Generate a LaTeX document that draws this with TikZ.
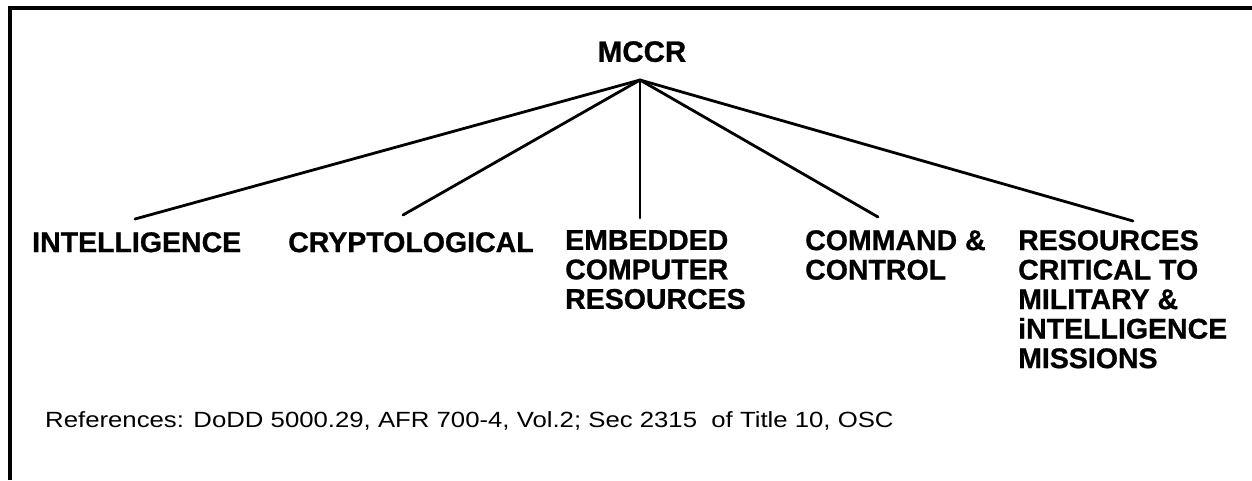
\documentclass[tikz,border=0pt]{standalone}
\usepackage{fontspec}
\setmainfont[BoldFeatures={FakeBold=0.8}]{Liberation Sans}
\newfontfamily\widefont[FakeStretch=1.17]{Liberation Sans}
\begin{document}
\begin{tikzpicture}[x=1pt,y=-1pt,
  lbl/.style={font=\bfseries\fontsize{28.5}{29.5}\selectfont, inner sep=0pt, anchor=north west, align=left},
  title/.style={font=\bfseries\fontsize{29.5}{30}\selectfont, inner sep=0pt, anchor=north},
  note/.style={font=\widefont\fontsize{22}{24}\selectfont, inner sep=0pt, anchor=base west},
  link/.style={line width=2.8pt, line cap=round},
  frame/.style={line width=3.4pt}]
\useasboundingbox (0,0) rectangle (1252,480);

% partial frame
\draw[frame] (10,480) -- (10,8) -- (1252,8);

% root
\node[title] (mccr) at (642,41) {MCCR};
\coordinate (apex) at (640,80);

% categories
\node[lbl] (intel) at (32,232) {INTELLIGENCE};
\node[lbl] (crypto) at (288,232) {CRYPTOLOGICAL};
\node[lbl] (embed) at (565,230) {EMBEDDED\\COMPUTER\\RESOURCES};
\node[lbl] (cmd) at (805,230) {COMMAND \&\\CONTROL};
\node[lbl] (res) at (1018,230) {RESOURCES\\CRITICAL TO\\MILITARY \&\\iNTELLIGENCE\\MISSIONS};

% connector ends above each label
\coordinate (t1) at (135,219);
\coordinate (t2) at (403,215);
\coordinate (t3) at (640,218);
\coordinate (t4) at (878,217);
\coordinate (t5) at (1133,221);

\foreach \t in {t1,t2,t3,t4,t5}
  \draw[link] (apex) -- (\t);

% footnote
\node[note] (refs) at (45,427) {References: DoDD 5000.29, AFR 700-4, Vol.2; Sec 2315\ \ of Title 10, OSC};
\end{tikzpicture}
\end{document}
